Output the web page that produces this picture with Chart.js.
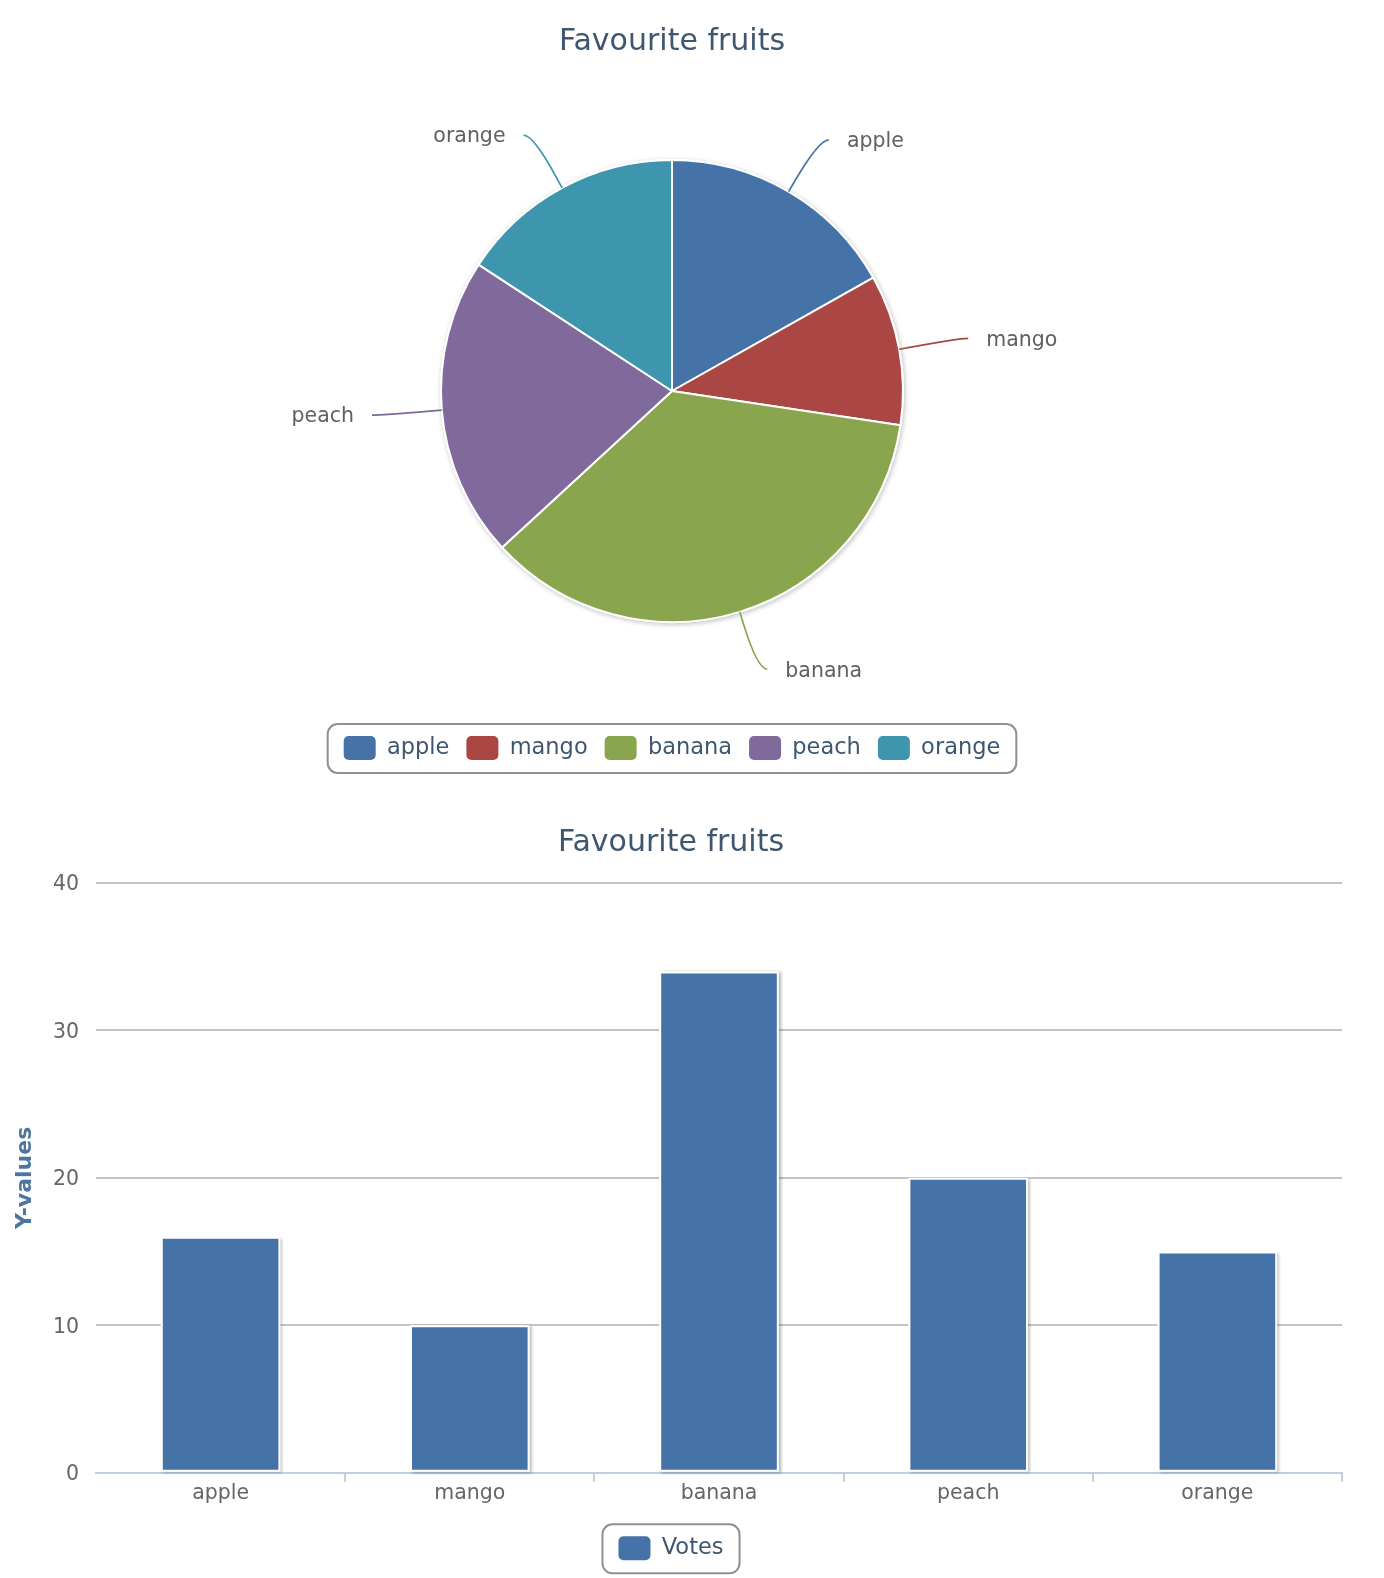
<!DOCTYPE html>
<html><head><meta charset="utf-8">
<script src="https://cdn.jsdelivr.net/npm/chart.js@4/dist/chart.umd.min.js"></script>
<style>
html,body{margin:0;padding:0;background:#fff;}
#wrap1{position:absolute;left:0;top:0;width:1344px;height:800px;}
#wrap2{position:absolute;left:0;top:800px;width:1344px;height:778px;}
canvas{display:block;}
</style></head><body>
<div id="wrap1"><canvas id="pie"></canvas></div>
<div id="wrap2"><canvas id="bar"></canvas></div>
<script>
// ---- data ----
const chartTitle = 'Favourite fruits';
const fruits = ['apple', 'mango', 'banana', 'peach', 'orange'];
const votes = [16, 10, 34, 20, 15];
const seriesName = 'Votes';
const yAxisTitle = 'Y-values';
const yTicks = [0, 10, 20, 30, 40];
const sliceColors = ['#4572A7', '#AA4643', '#89A54E', '#80699B', '#3D96AE'];
const barColor = '#4572A7';

// ---- styles ----
const FONT = '"DejaVu Sans", Verdana, sans-serif';
Chart.defaults.font.family = FONT;
const TITLE_COLOR = '#3E576F';
const LABEL_COLOR = '#666666';

const legendFrame = {
  id: 'legendFrame',
  afterDraw(chart) {
    const lg = chart.legend;
    if (!lg || !lg.legendHitBoxes || !lg.legendHitBoxes.length) return;
    const hb = lg.legendHitBoxes;
    const l = Math.min(...hb.map(h => h.left)) - 16;
    const r = Math.max(...hb.map(h => h.left + h.width)) + 16;
    const t = hb[0].top - 12;
    const ctx = chart.ctx;
    ctx.save();
    ctx.strokeStyle = '#909090';
    ctx.lineWidth = 2;
    ctx.beginPath();
    ctx.roundRect(l, t, r - l, 49, 10);
    ctx.stroke();
    ctx.restore();
  }
};

const pieShadow = {
  id: 'pieShadow',
  beforeDatasetsDraw(chart) {
    const a = chart.getDatasetMeta(0).data[0];
    if (!a) return;
    const p = a.getProps(['x', 'y', 'outerRadius'], true);
    const ctx = chart.ctx;
    ctx.save();
    ctx.shadowColor = 'rgba(0,0,0,0.25)';
    ctx.shadowBlur = 5;
    ctx.shadowOffsetX = 1;
    ctx.shadowOffsetY = 1.5;
    ctx.fillStyle = '#fff';
    ctx.beginPath();
    ctx.arc(p.x, p.y, p.outerRadius + 1, 0, Math.PI * 2);
    ctx.fill();
    ctx.restore();
  }
};

const LABEL_DISTANCE = 60;
const pieLabels = {
  id: 'pieLabels',
  afterDatasetsDraw(chart) {
    const ctx = chart.ctx;
    const meta = chart.getDatasetMeta(0);
    const ds = chart.data.datasets[0];
    meta.data.forEach((arc, i) => {
      const p = arc.getProps(['x', 'y', 'startAngle', 'endAngle', 'outerRadius'], true);
      const mid = (p.startAngle + p.endAngle) / 2;
      const c = Math.cos(mid), s = Math.sin(mid);
      const r = p.outerRadius;
      const R2 = r + LABEL_DISTANCE;
      const lx = p.x + c * R2, ly = p.y + s * R2;
      const ex = p.x + c * r, ey = p.y + s * r;
      const bx = p.x + c * (r + 12), by = p.y + s * (r + 12);
      const dir = c >= 0 ? 1 : -1;
      ctx.save();
      ctx.strokeStyle = ds.backgroundColor[i];
      ctx.lineWidth = 1.7;
      ctx.beginPath();
      ctx.moveTo(lx + dir * 10, ly);
      ctx.bezierCurveTo(lx, ly, 2 * bx - ex, 2 * by - ey, bx, by);
      ctx.lineTo(ex, ey);
      ctx.stroke();
      ctx.fillStyle = '#606060';
      ctx.font = '20.5px ' + FONT;
      ctx.textAlign = dir > 0 ? 'left' : 'right';
      ctx.textBaseline = 'middle';
      ctx.fillText(chart.data.labels[i], lx + dir * 28, ly + 2);
      ctx.restore();
    });
  }
};

const barShadow = {
  id: 'barShadow',
  beforeDatasetsDraw(chart) {
    const ctx = chart.ctx;
    chart.getDatasetMeta(0).data.forEach(el => {
      const p = el.getProps(['x', 'y', 'base', 'width'], true);
      ctx.save();
      ctx.shadowColor = 'rgba(0,0,0,0.3)';
      ctx.shadowBlur = 3;
      ctx.shadowOffsetX = 2;
      ctx.shadowOffsetY = 1;
      ctx.fillStyle = '#fff';
      ctx.fillRect(p.x - p.width / 2, p.y, p.width, p.base - p.y);
      ctx.restore();
    });
  }
};

function noStroke(items) {
  items.forEach(it => { it.lineWidth = 0; it.strokeStyle = 'rgba(0,0,0,0)'; });
  return items;
}

const legendLabels = {
  font: { family: FONT, size: 22.5 },
  color: TITLE_COLOR,
  boxWidth: 32,
  boxHeight: 24,
  padding: 17,
  useBorderRadius: true,
  borderRadius: 5
};

// ---- pie chart ----
new Chart(document.getElementById('pie'), {
  type: 'pie',
  data: {
    labels: fruits,
    datasets: [{
      data: votes,
      backgroundColor: sliceColors,
      borderColor: '#ffffff',
      borderWidth: 2,
      radius: 231
    }]
  },
  options: {
    responsive: true,
    maintainAspectRatio: false,
    animation: false,
    events: [],
    radius: 231,
    layout: { padding: { top: 0, bottom: 30, left: 0, right: 0 } },
    plugins: {
      title: {
        display: true, text: chartTitle, color: TITLE_COLOR,
        font: { family: FONT, size: 30, weight: 'normal' },
        padding: { top: 24, bottom: 3 }
      },
      legend: {
        position: 'bottom',
        labels: Object.assign({}, legendLabels, {
          generateLabels(chart) {
            return noStroke(Chart.overrides.pie.plugins.legend.labels.generateLabels(chart));
          }
        })
      },
      tooltip: { enabled: false }
    }
  },
  plugins: [pieShadow, pieLabels, legendFrame]
});

// ---- bar chart ----
new Chart(document.getElementById('bar'), {
  type: 'bar',
  data: {
    labels: fruits,
    datasets: [{
      label: seriesName,
      data: votes,
      backgroundColor: barColor,
      borderColor: '#ffffff',
      borderWidth: 2,
      borderSkipped: false,
      barPercentage: 0.8,
      categoryPercentage: 0.6
    }]
  },
  options: {
    responsive: true,
    maintainAspectRatio: false,
    animation: false,
    events: [],
    layout: { padding: { top: 0, bottom: 7.7, left: 0, right: 2 } },
    scales: {
      x: {
        grid: {
          offset: true, drawOnChartArea: false, drawTicks: true, tickLength: 9,
          color: c => c.index === 0 ? 'rgba(0,0,0,0)' : '#C0D0E0', lineWidth: 2
        },
        border: { display: true, color: '#C0D0E0', width: 2 },
        ticks: { color: LABEL_COLOR, font: { family: FONT, size: 20.5, lineHeight: 1 }, padding: 2 },
        afterFit(s) { s.height = 46.6; }
      },
      y: {
        min: yTicks[0], max: yTicks[yTicks.length - 1],
        afterBuildTicks(s) { s.ticks = yTicks.map(v => ({ value: v })); },
        ticks: { color: LABEL_COLOR, font: { family: FONT, size: 20.5 }, padding: 17, labelOffset: 2 },
        grid: {
          color: c => (c.tick && c.tick.value === 0) ? 'rgba(0,0,0,0)' : '#C4C4C4',
          lineWidth: 2, drawTicks: false
        },
        border: { display: false },
        title: {
          display: true, text: yAxisTitle, color: '#4D759E',
          font: { family: FONT, size: 22, weight: 'bold' },
          padding: { top: 12, bottom: 0 }
        },
        afterFit(s) { s.width = 96; }
      }
    },
    plugins: {
      title: {
        display: true, text: chartTitle, color: TITLE_COLOR,
        font: { family: FONT, size: 30, weight: 'normal' },
        padding: { top: 25, bottom: 22 }
      },
      legend: {
        position: 'bottom',
        labels: Object.assign({}, legendLabels, {
          generateLabels(chart) {
            return noStroke(Chart.defaults.plugins.legend.labels.generateLabels(chart));
          }
        })
      },
      tooltip: { enabled: false }
    }
  },
  plugins: [barShadow, legendFrame]
});
</script>
</body></html>
